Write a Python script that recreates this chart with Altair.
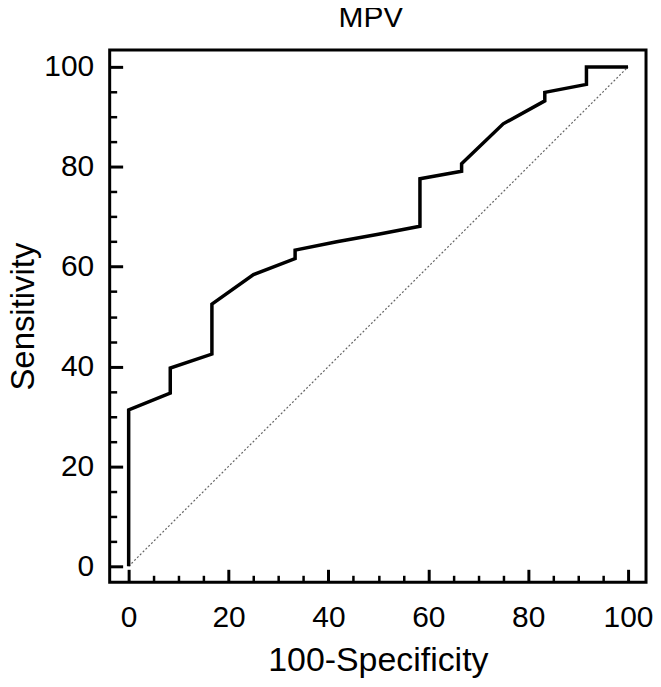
import altair as alt
import pandas as pd

# ROC curve points (100-Specificity, Sensitivity)
fpr = [0, 0, 8.33, 8.33, 16.67, 16.67, 25, 33.33, 33.33, 41.67, 50, 58.33, 58.33,
       66.67, 66.67, 75, 83.33, 83.33, 91.67, 91.67, 100]
sens = [0, 31.3, 34.7, 39.7, 42.5, 52.5, 58.4, 61.6, 63.3, 65.0, 66.5, 68.1, 77.6,
        79.1, 80.6, 88.6, 93.2, 94.9, 96.5, 100, 100]

# reference diagonal
diag_x = [0, 100]
diag_y = [0, 100]

major_ticks = [0, 20, 40, 60, 80, 100]
minor_ticks = [5, 10, 15, 25, 30, 35, 45, 50, 55, 65, 70, 75, 85, 90, 95]

roc_df = pd.DataFrame({"fpr": fpr, "sens": sens, "i": list(range(len(fpr)))})
diag_df = pd.DataFrame({"x": diag_x, "y": diag_y})

FONT = "Liberation Sans"

xscale = alt.Scale(domain=[-3.8, 103.6], nice=False, zero=False)
yscale = alt.Scale(domain=[-3.2, 103.4], nice=False, zero=False)

common = dict(domain=False, grid=False, tickColor="black", labelColor="black",
              labelFont=FONT, titleFont=FONT, titleColor="black",
              titleFontWeight="normal", labelFlush=False)

major_x = alt.Axis(orient="bottom", values=major_ticks, tickSize=13, offset=-13,
                   tickWidth=3, labelFontSize=30, labelPadding=20, format="d",
                   title="100-Specificity", titleFontSize=34, titlePadding=12,
                   **common)
minor_x = alt.Axis(orient="bottom", values=minor_ticks, tickSize=7, offset=-7,
                   tickWidth=2.5, labels=False, title=None, **common)
major_y = alt.Axis(orient="left", values=major_ticks, tickSize=13, offset=-13,
                   tickWidth=3, labelFontSize=30, labelPadding=16, format="d",
                   title="Sensitivity", titleFontSize=33, titlePadding=3,
                   **common)
minor_y = alt.Axis(orient="left", values=minor_ticks, tickSize=7, offset=-7,
                   tickWidth=2.5, labels=False, title=None, **common)

diag = alt.Chart(diag_df).mark_line(color="#666666", strokeWidth=1.2, strokeDash=[2, 2]).encode(
    x=alt.X("x:Q", scale=xscale, axis=minor_x),
    y=alt.Y("y:Q", scale=yscale, axis=minor_y),
)

roc = alt.Chart(roc_df).mark_line(color="black", strokeWidth=3.5).encode(
    x=alt.X("fpr:Q", scale=xscale, axis=major_x),
    y=alt.Y("sens:Q", scale=yscale, axis=major_y),
    order="i:Q",
)

chart = alt.layer(diag, roc).resolve_axis(x="independent", y="independent").properties(
    width=538,
    height=534,
    title=alt.TitleParams("MPV", font=FONT, fontSize=30, fontWeight="normal",
                          color="black", anchor="middle", baseline="bottom",
                          offset=14, dx=-7, dy=27),
    autosize=alt.AutoSizeParams(type="none"),
    padding={"left": 102, "top": 41, "right": 7, "bottom": 96},
).configure(background="white").configure_view(stroke="black", strokeWidth=3)

chart.save("out.html", embed_options={"renderer": "svg", "actions": False})
